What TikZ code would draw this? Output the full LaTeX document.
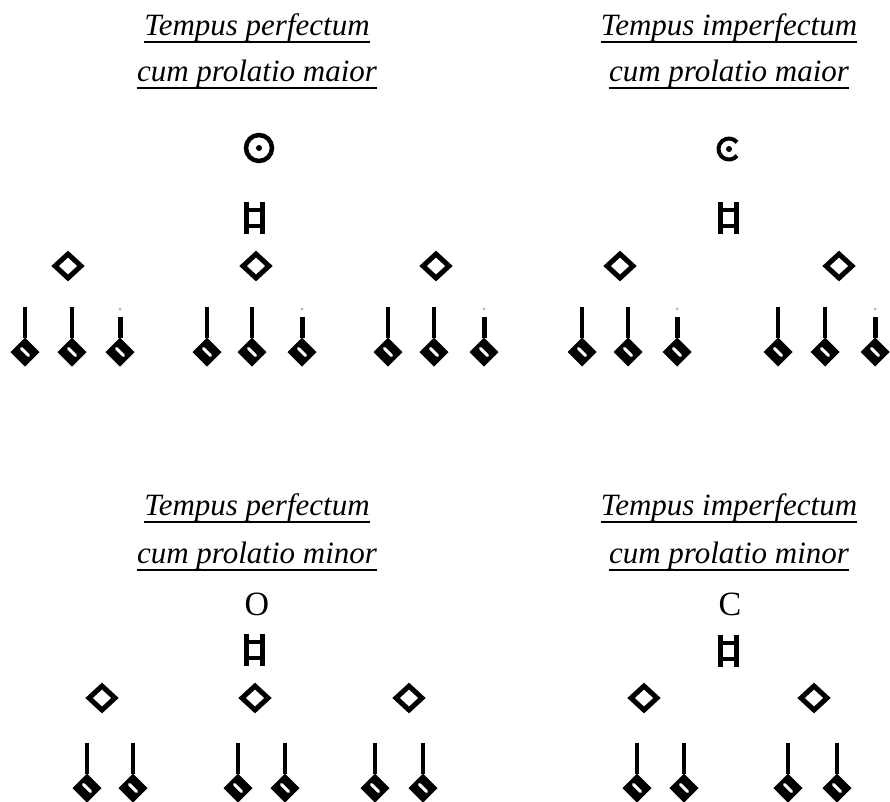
\documentclass[tikz,border=0pt]{standalone}
\usepackage{fontspec}
\setmainfont{Liberation Serif}
\usetikzlibrary{shapes.geometric}
\tikzset{
  titel/.style={font=\fontsize{31}{36}\selectfont\itshape, inner sep=0pt, anchor=base},
  zeichen/.style={font=\fontsize{34}{40}\selectfont, inner sep=0pt},
  brevis/.style={draw, rectangle, line width=4.5pt, minimum width=16pt, minimum height=16pt, inner sep=0pt, outer sep=0pt},
  semibrevis/.style={draw, diamond, line width=5pt, minimum width=28pt, minimum height=26pt, inner sep=0pt},
  minima/.style={draw, fill, diamond, line width=2pt, minimum width=27pt, minimum height=27pt, inner sep=0pt,
    path picture={\draw[white, line width=3pt, line cap=round] ([shift={(-3.5pt,3.5pt)}]path picture bounding box.center) -- ([shift={(3.5pt,-3.5pt)}]path picture bounding box.center);}},
  hals/.style={line width=3.5pt}
}
\begin{document}
\begin{tikzpicture}[x=1pt, y=-1pt]
\useasboundingbox (0,0) rectangle (890,801);
\node[titel] (tpa1) at (257,35) {Tempus perfectum};
\node[titel] (tpa2) at (257,81) {cum prolatio maior};
\node[titel] (tia1) at (729,35) {Tempus imperfectum};
\node[titel] (tia2) at (729,81) {cum prolatio maior};
\node[titel] (tpi1) at (257,515) {Tempus perfectum};
\node[titel] (tpi2) at (257,563) {cum prolatio minor};
\node[titel] (tii1) at (729,515) {Tempus imperfectum};
\node[titel] (tii2) at (729,563) {cum prolatio minor};
\foreach \t in {tpa1,tpa2,tia1,tia2,tpi1,tpi2,tii1,tii2}
  \draw[line width=2.4pt] ([yshift=-7pt]\t.base west) -- ([yshift=-7pt]\t.base east);
% mensuration signs
\node[circle, draw, line width=4.5pt, minimum size=26pt, inner sep=0pt] (tpa) at (259,148) {};
\fill (tpa.center) circle (3pt);
\coordinate (tia) at (729,149);
\draw[line width=4pt] ([shift={(40:10.5pt)}]tia) arc[start angle=40, end angle=320, radius=10.5pt];
\fill (tia) circle (3pt);
\node[zeichen] (tpi) at (257,604) {O};
\node[zeichen] (tii) at (730,604) {C};
% breves
\foreach \n/\x/\y in {ba/254/218, bb/728/218, bc/254/650, bd/728/651}{
  \node[brevis] (\n) at (\x,\y) {};
  \draw[line width=5pt] ([yshift=8pt]\n.north west) -- ([yshift=-8pt]\n.south west);
  \draw[line width=5pt] ([yshift=8pt]\n.north east) -- ([yshift=-8pt]\n.south east);
}
% semibreves
\foreach \n/\x/\y in {sa1/68/266, sa2/256/266, sa3/436/266, sb1/620/266, sb2/839/266,
                      sc1/102/698, sc2/255/698, sc3/409/698, sd1/644/698, sd2/814/698}
  \node[semibrevis] (\n) at (\x,\y) {};
% minims
\foreach \n/\x in {ma1/25, ma2/72, ma4/207, ma5/252, ma7/388, ma8/434, mb1/582, mb2/628, mb4/778, mb5/825}{
  \node[minima] (\n) at (\x,352) {};
  \coordinate (\n-h) at (\x,307);
  \draw[hals] (\n-h) -- (\n.north);
}
\foreach \n/\x in {ma3/120, ma6/302, ma9/484, mb3/677, mb6/875}{
  \node[minima] (\n) at (\x,352) {};
  \coordinate (\n-h) at (\x,317);
  \draw[hals, line width=5pt] (\n-h) -- (\n.north);
  \fill[gray!60] (\x,309) circle (1.5pt);
}
\foreach \n/\x in {mc1/87, mc2/133, mc3/238, mc4/285, mc5/375, mc6/423, md1/637, md2/684, md3/788, md4/837}{
  \node[minima] (\n) at (\x,788) {};
  \coordinate (\n-h) at (\x,743);
  \draw[hals] (\n-h) -- (\n.north);
}
\end{tikzpicture}
\end{document}
